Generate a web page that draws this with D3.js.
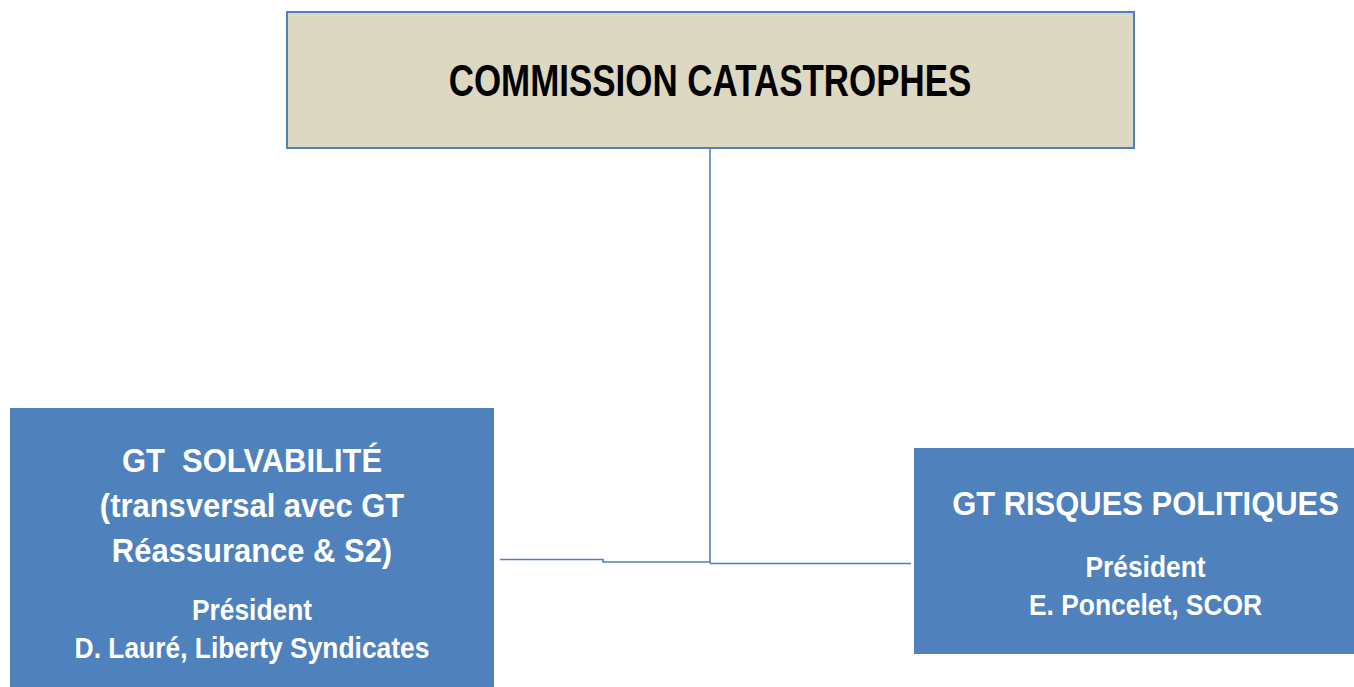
<!DOCTYPE html>
<html><head><meta charset="utf-8">
<script src="https://cdn.jsdelivr.net/npm/d3@7"></script>
<style>html,body{margin:0;padding:0;background:#fff;overflow:hidden}</style>
</head><body>
<svg id="chart" width="1354" height="687"></svg>
<script>
// Data
const nodeIds = ["root", "solv", "risq"];
const nodeTitles = [["COMMISSION CATASTROPHES"], ["GT  SOLVABILITÉ", "(transversal avec GT", "Réassurance & S2)"], ["GT RISQUES POLITIQUES"]];
const nodeSubtitles = [[], ["Président", "D. Lauré, Liberty Syndicates"], ["Président", "E. Poncelet, SCOR"]];
const parents = [null, "root", "root"];

const svg = d3.select("#chart");
const blue = "#4f81bd";
const FONT = "'Liberation Sans', Arial, sans-serif";

// layout (pixel boxes)
const boxes = {
  root: {x: 287, y: 12, w: 847, h: 136, fill: "#ddd8c2", stroke: blue, text: "#000", titleSize: 44, titleY: [96], subY: [], cx: 710, sx: 0.794},
  solv: {x: 10, y: 408, w: 484, h: 290, fill: blue, stroke: "none", text: "#fff", titleSize: 34, titleY: [472, 517, 562], subY: [620, 658], subSize: 29, cx: 252, sx: 0.91},
  risq: {x: 914, y: 448, w: 450, h: 206, fill: blue, stroke: "none", text: "#fff", titleSize: 34, titleY: [515], subY: [577, 615], subSize: 29, cx: 1145.5, sx: 0.91}
};

// connectors
const lineG = svg.append("g").attr("fill", "none").attr("stroke", blue).attr("stroke-width", 1.6);
const rootB = boxes.root;
const trunkX = 710;
lineG.append("path").attr("d", d3.line()([[trunkX, rootB.y + rootB.h], [trunkX, 563.5]]));
lineG.append("path").attr("d", d3.line()([[500, 559.5], [603, 559.5], [603, 562], [trunkX, 562]]));
lineG.append("path").attr("d", d3.line()([[trunkX, 563.5], [911, 563.5]]));

nodeIds.forEach((id, i) => {
  const b = boxes[id];
  const g = svg.append("g");
  g.append("rect").attr("x", b.x).attr("y", b.y).attr("width", b.w).attr("height", b.h)
    .attr("fill", b.fill).attr("stroke", b.stroke).attr("stroke-width", 2);
  const lines = nodeTitles[i].map((t, j) => ({t, y: b.titleY[j], s: b.titleSize}))
    .concat(nodeSubtitles[i].map((t, j) => ({t, y: b.subY[j], s: b.subSize})));
  lines.forEach(l => {
    g.append("text")
      .attr("transform", `translate(${b.cx},${l.y}) scale(${b.sx},1)`)
      .attr("text-anchor", "middle")
      .attr("font-family", FONT).attr("font-weight", "bold")
      .attr("font-size", l.s).attr("fill", b.text)
      .style("white-space", "pre")
      .text(l.t);
  });
});
</script>
</body></html>
